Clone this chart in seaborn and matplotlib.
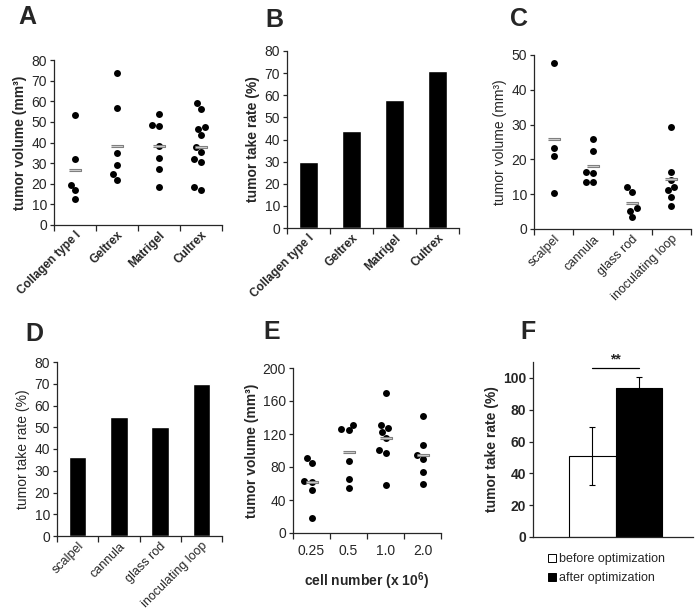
import numpy as np
import pandas as pd
import seaborn as sns
import matplotlib.pyplot as plt
from matplotlib.lines import Line2D

# === Dados ===
matrix_cats = ['Collagen type I', 'Geltrex', 'Matrigel', 'Cultrex']
vol_collagen = [53.2, 31.8, 16.9, 12.4, 19.6]
vol_geltrex = [73.5, 56.6, 35.0, 29.1, 24.9, 22.0]
vol_matrigel = [47.9, 48.6, 53.9, 38.1, 32.5, 27.0, 18.6]
vol_cultrex = [56.3, 59.0, 43.6, 47.4, 46.6, 35.5, 37.8, 30.5, 32.0, 18.2, 17.0]
mean_matrix = [26.8, 38.3, 38.1, 37.7]
take_matrix = [30, 44, 58, 71]

tool_cats = ['scalpel', 'cannula', 'glass rod', 'inoculating loop']
vol_scalpel = [47.7, 23.4, 21.1, 10.4]
vol_cannula = [26.0, 22.4, 16.5, 16.0, 13.6, 13.6]
vol_glass = [12.2, 10.7, 6.0, 5.3, 3.4]
vol_loop = [29.2, 16.4, 14.0, 12.2, 11.1, 9.3, 6.6]
mean_tool = [25.8, 18.2, 7.6, 14.4]
take_tool = [36.4, 54.5, 50.0, 70.0]

cell_cats = ['0.25', '0.5', '1.0', '2.0']
vol_025 = [84.4, 90.9, 63.3, 62.1, 51.9, 18.3]
vol_05 = [126.2, 131.0, 124.5, 87.2, 65.7, 54.8]
vol_10 = [169.2, 131.0, 127.8, 122.5, 115.2, 100.2, 97.4, 58.0]
vol_20 = [142.4, 106.3, 94.9, 89.7, 73.4, 58.8]
mean_cell = [62.0, 98.6, 115.2, 94.5]

opt_cats = ['before optimization', 'after optimization']
take_opt = [51.0, 93.5]
err_opt = [18.2, 6.8]

# === Estilo ===
sns.set_style('ticks')
plt.rcParams['font.family'] = ['Liberation Sans', 'DejaVu Sans']
plt.rcParams['mathtext.fontset'] = 'custom'
plt.rcParams['mathtext.rm'] = 'Liberation Sans'
plt.rcParams['mathtext.bf'] = 'Liberation Sans:bold'
plt.rcParams['axes.linewidth'] = 0.9

fig = plt.figure(figsize=(7, 6.15), dpi=100)

W, H = 700, 615
def add_ax(x0, x1, y0, y1):
    return fig.add_axes([x0 / W, 1 - y1 / H, (x1 - x0) / W, (y1 - y0) / H])

ax_a = add_ax(54, 222, 60, 225)
ax_b = add_ax(287, 459, 51, 228)
ax_c = add_ax(534, 691, 55, 229)
ax_d = add_ax(57, 222, 362, 536)
ax_e = add_ax(293, 441, 368, 533)
ax_f = add_ax(533, 693, 362, 537)

dash = [(-1, -0.22), (1, -0.22), (1, 0.22), (-1, 0.22)]


def cat_axis(ax, n):
    ax.set_xlim(-0.5, n - 0.5)
    ax.set_xticks(np.arange(-0.5, n), minor=True)
    ax.tick_params(axis='x', which='major', length=0, pad=3)
    ax.tick_params(axis='x', which='minor', length=4, width=0.9, direction='out')
    ax.tick_params(axis='y', length=3, width=0.9, direction='out', labelsize=10, pad=2)
    ax.set_xlabel('')
    sns.despine(ax=ax)


def dot_panel(ax, cats, groups, means):
    df = pd.DataFrame({'cat': np.repeat(cats, [len(g) for g in groups]),
                       'vol': np.concatenate(groups)})
    sns.swarmplot(data=df, x='cat', y='vol', order=cats, color='black',
                  size=5, ax=ax)
    ax.scatter(np.arange(len(cats)), means, marker=dash, s=80,
               facecolor='#d4d4d4', edgecolor='#808080', linewidth=0.8, zorder=3)
    cat_axis(ax, len(cats))


def bar_panel(ax, cats, vals):
    sns.barplot(x=cats, y=vals, color='black', saturation=1, width=0.42, ax=ax)
    cat_axis(ax, len(cats))


# === A ===
dot_panel(ax_a, matrix_cats, [vol_collagen, vol_geltrex, vol_matrigel, vol_cultrex], mean_matrix)
ax_a.set_ylim(0, 80)
ax_a.set_yticks(range(0, 81, 10))
ax_a.set_xticklabels(matrix_cats, rotation=45, ha='right', rotation_mode='anchor',
                     fontsize=8.5, fontweight='bold')
ax_a.set_ylabel('tumor volume (mm³)', fontsize=10, fontweight='bold', labelpad=3)

# === B ===
bar_panel(ax_b, matrix_cats, take_matrix)
ax_b.set_ylim(0, 80)
ax_b.set_yticks(range(0, 81, 10))
ax_b.set_xticklabels(matrix_cats, rotation=45, ha='right', rotation_mode='anchor',
                     fontsize=8.5, fontweight='bold')
ax_b.set_ylabel('tumor take rate (%)', fontsize=10, fontweight='bold', labelpad=3)

# === C ===
dot_panel(ax_c, tool_cats, [vol_scalpel, vol_cannula, vol_glass, vol_loop], mean_tool)
ax_c.set_ylim(0, 50)
ax_c.set_yticks(range(0, 51, 10))
ax_c.set_xticklabels(tool_cats, rotation=45, ha='right', rotation_mode='anchor', fontsize=9)
ax_c.set_ylabel('tumor volume (mm³)', fontsize=10, labelpad=3)

# === D ===
bar_panel(ax_d, tool_cats, take_tool)
ax_d.set_ylim(0, 80)
ax_d.set_yticks(range(0, 81, 10))
ax_d.set_xticklabels(tool_cats, rotation=45, ha='right', rotation_mode='anchor', fontsize=9)
ax_d.set_ylabel('tumor take rate (%)', fontsize=10, labelpad=3)

# === E ===
dot_panel(ax_e, cell_cats, [vol_025, vol_05, vol_10, vol_20], mean_cell)
ax_e.set_ylim(0, 200)
ax_e.set_yticks(range(0, 201, 40))
ax_e.set_xticklabels(cell_cats, fontsize=10)
ax_e.tick_params(axis='x', which='major', pad=8)
ax_e.set_ylabel('tumor volume (mm³)', fontsize=10, fontweight='bold', labelpad=3)
ax_e.set_xlabel(r'cell number (x 10$^{\mathbf{6}}$)', fontsize=10, fontweight='bold', labelpad=9)

# === F ===
sns.barplot(x=opt_cats, y=take_opt, hue=opt_cats, palette=['white', 'black'],
            saturation=1, width=1.0, edgecolor='black', linewidth=0.8,
            legend=False, ax=ax_f)
ax_f.errorbar(np.arange(2), take_opt, yerr=err_opt, fmt='none', ecolor='black',
              elinewidth=0.8, capsize=2.5, capthick=0.8)
ax_f.plot([0, 1], [106, 106], color='black', linewidth=0.9)
ax_f.text(0.5, 107, '**', ha='center', va='bottom', fontsize=10, fontweight='bold')
ax_f.set_xlim(-1.27, 2.16)
ax_f.set_ylim(0, 110)
ax_f.set_yticks(range(0, 101, 20))
ax_f.set_xticks([])
ax_f.tick_params(axis='y', length=3, width=0.9, direction='out', labelsize=10, pad=2)
for lbl in ax_f.get_yticklabels():
    lbl.set_fontweight('bold')
ax_f.set_xlabel('')
ax_f.set_ylabel('tumor take rate (%)', fontsize=10, fontweight='bold', labelpad=3)
sns.despine(ax=ax_f)

handles = [Line2D([], [], marker='s', linestyle='', markersize=6,
                  markerfacecolor=c, markeredgecolor='black', markeredgewidth=0.7)
           for c in ['white', 'black']]
fig.legend(handles, opt_cats, loc='upper left', bbox_to_anchor=(548 / W, 1 - 553 / H),
           frameon=False, fontsize=9, handlelength=0.6, handletextpad=0.3,
           labelspacing=0.6, borderpad=0, borderaxespad=0)

# === Letras dos painéis ===
for letter, (x, y) in zip('ABCDEF', [(18, 5), (265, 8), (510, 7), (25, 322), (263, 320), (520, 320)]):
    fig.text(x / W, 1 - y / H, letter, fontsize=18, fontweight='bold', va='top', ha='left')

fig.savefig('out.png', dpi=100)
